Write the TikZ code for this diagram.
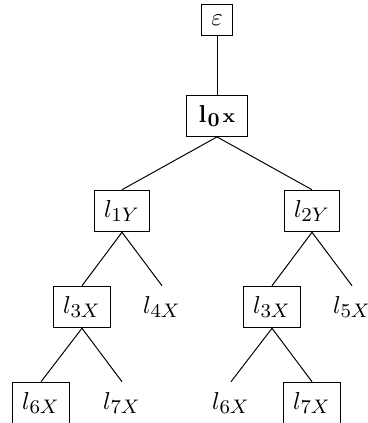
\documentclass[tikz,border=0pt]{standalone}
\usepackage{amsmath}
\DeclareMathSizes{10}{10}{8}{6}
\begin{document}
\begin{tikzpicture}[x=0.408pt,y=-0.408pt,
  boxed/.style={draw,inner sep=4pt},
  plain/.style={inner sep=4pt},
  edge/.style={line width=0.4pt}]
\useasboundingbox (0,0) rectangle (368,423);
\node[boxed,inner xsep=5pt] (l0) at (217,116) {$\mathbf{l_{\mskip1mu 0}{\scriptstyle\mskip1.5mu x}}$};
\node[boxed] (eps) at (217,20) {$\varepsilon$};
\node[boxed] (l1) at (122,211) {$l_{1Y}$};
\node[boxed] (l2) at (312,211) {$l_{2Y}$};
\node[boxed] (l3a) at (82,307) {$l_{3X}$};
\node[plain] (l4) at (162,307) {$l_{4X}$};
\node[boxed] (l3b) at (272,307) {$l_{3X}$};
\node[plain] (l5) at (352,307) {$l_{5X}$};
\node[boxed] (l6a) at (41,403) {$l_{6X}$};
\node[plain] (l7a) at (122,403) {$l_{7X}$};
\node[plain] (l6b) at (231,403) {$l_{6X}$};
\node[boxed] (l7b) at (312,403) {$l_{7X}$};
\draw[edge] (eps.south) -- (l0.north);
\draw[edge] (l0.south) -- (l1.north);
\draw[edge] (l0.south) -- (l2.north);
\draw[edge] (l1.south) -- (l3a.north);
\draw[edge] (l1.south) -- (l4.north);
\draw[edge] (l2.south) -- (l3b.north);
\draw[edge] (l2.south) -- (l5.north);
\draw[edge] (l3a.south) -- (l6a.north);
\draw[edge] (l3a.south) -- (l7a.north);
\draw[edge] (l3b.south) -- (l6b.north);
\draw[edge] (l3b.south) -- (l7b.north);
\end{tikzpicture}
\end{document}
